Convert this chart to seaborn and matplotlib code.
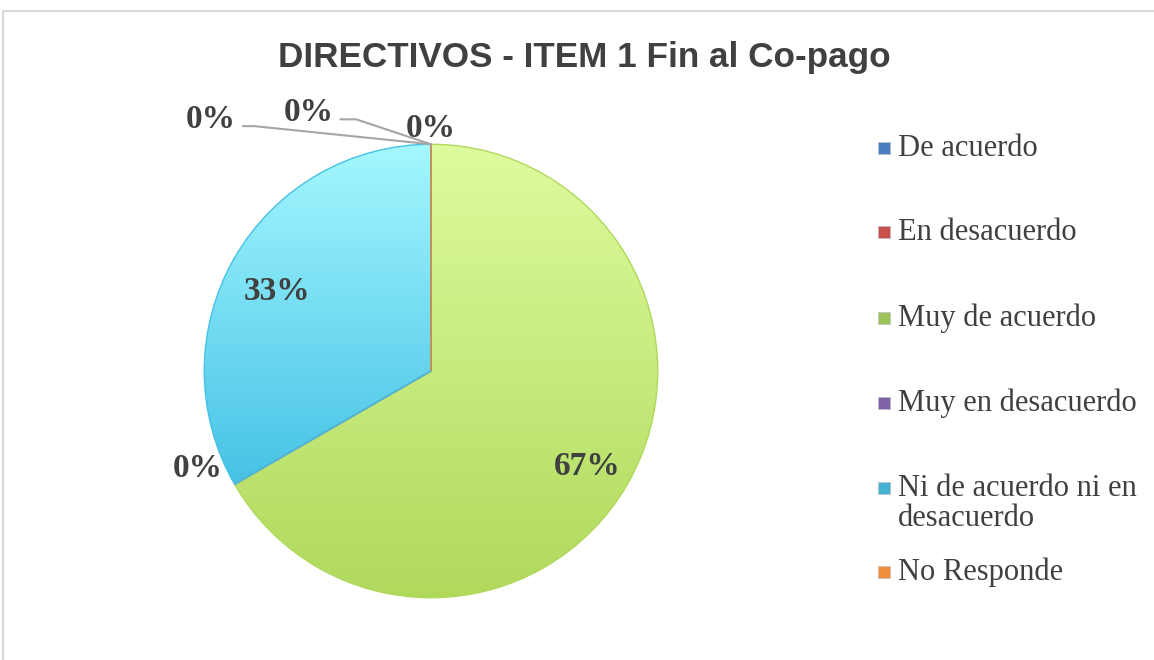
import numpy as np
import matplotlib
matplotlib.use("Agg")
import matplotlib.pyplot as plt
from matplotlib.colors import LinearSegmentedColormap
from matplotlib.patches import Rectangle
import seaborn as sns

# Data
categories = ["De acuerdo", "En desacuerdo", "Muy de acuerdo", "Muy en desacuerdo",
              "Ni de acuerdo ni en\ndesacuerdo", "No Responde"]
values = [0, 0, 2, 0, 1, 0]
title = "DIRECTIVOS - ITEM 1 Fin al Co-pago"

# Office-like colours: (top of gradient, bottom of gradient, legend colour)
top_colors = ["#6F9BD6", "#E07A77", "#DEFB9E", "#A088C4", "#A5F8FF", "#FFB56E"]
bottom_colors = ["#3E6FB0", "#B5403D", "#B0D95C", "#6B4F94", "#46C2E6", "#E7822E"]
legend_colors = ["#4A7EC0", "#C9504D", "#9DC45A", "#7F62A8", "#45B2D2", "#F08E3C"]

# label positions (axes data units, pie radius = 1)
label_pos = [(0.0, 1.07), (-0.54, 1.14), (0.69, -0.42), (-1.03, -0.43), (-0.68, 0.35), (-0.97, 1.11)]
leader_knee = {1: (-0.33, 1.11), 5: (-0.78, 1.08)}
leader_start = {1: (-0.40, 1.11), 5: (-0.83, 1.08)}

sns.set_theme(style="white")
plt.rcParams["font.family"] = ["Liberation Serif", "DejaVu Serif"]

W, H = 1154, 660
fig = plt.figure(figsize=(W / 100, H / 100), dpi=100)

# chart-area border
fig.patches.append(Rectangle((3 / W, -0.1), 1.2, 1.1 - 11 / H, transform=fig.transFigure,
                             fill=False, edgecolor="#D9D9D9", linewidth=1.5))

cx, cy, r = 431, 371, 229
ax = fig.add_axes([(cx - r) / W, (H - cy - r) / H, 2 * r / W, 2 * r / H])

wedges, _ = ax.pie(values, startangle=90, counterclock=False, radius=1,
                   wedgeprops=dict(linewidth=1.0))

grad = np.linspace(0, 1, 256).reshape(-1, 1)
total = sum(values)
for i, w in enumerate(wedges):
    w.set_facecolor("none")
    w.set_edgecolor(bottom_colors[i])
    if values[i] == 0:
        continue
    bb = w.get_path().get_extents()
    cmap = LinearSegmentedColormap.from_list("g%d" % i, [bottom_colors[i], top_colors[i]])
    im = ax.imshow(grad, cmap=cmap, origin="lower", aspect="auto",
                   extent=[bb.x0, bb.x1, bb.y0, bb.y1], zorder=0.5)
    im.set_clip_path(w)

ax.set_xlim(-1.01, 1.01)
ax.set_ylim(-1.01, 1.01)
ax.axis("off")

# percentage labels
for i, v in enumerate(values):
    x, y = label_pos[i]
    ax.text(x, y, f"{v / total:.0%}", ha="center", va="center", fontsize=24,
            fontweight="bold", color="#404040", clip_on=False)
    if i in leader_knee:
        mid = np.deg2rad((wedges[i].theta1 + wedges[i].theta2) / 2)
        sx, sy = leader_start[i]
        kx, ky = leader_knee[i]
        ax.plot([sx, kx, np.cos(mid)], [sy, ky, np.sin(mid)], color="#A6A6A6",
                linewidth=1.5, clip_on=False)

# title
fig.text(584 / W, 1 - 58 / H, title, ha="center", va="center", fontsize=25.3,
         fontweight="bold", color="#404040", family=["Liberation Sans", "DejaVu Sans"])

# legend
rows = [148, 232, 318, 403, 488, 572]
for i, lab in enumerate(categories):
    y = rows[i]
    fig.patches.append(Rectangle((878 / W, 1 - (y + 6) / H), 12 / W, 12 / H,
                                 transform=fig.transFigure, facecolor=legend_colors[i],
                                 edgecolor="#BFBFBF", linewidth=0.5))
    for j, line in enumerate(lab.split("\n")):
        fig.text(898 / W, 1 - (y + 30 * j) / H, line, ha="left", va="center",
                 fontsize=22, color="#404040")

fig.savefig("out.png", dpi=100)
